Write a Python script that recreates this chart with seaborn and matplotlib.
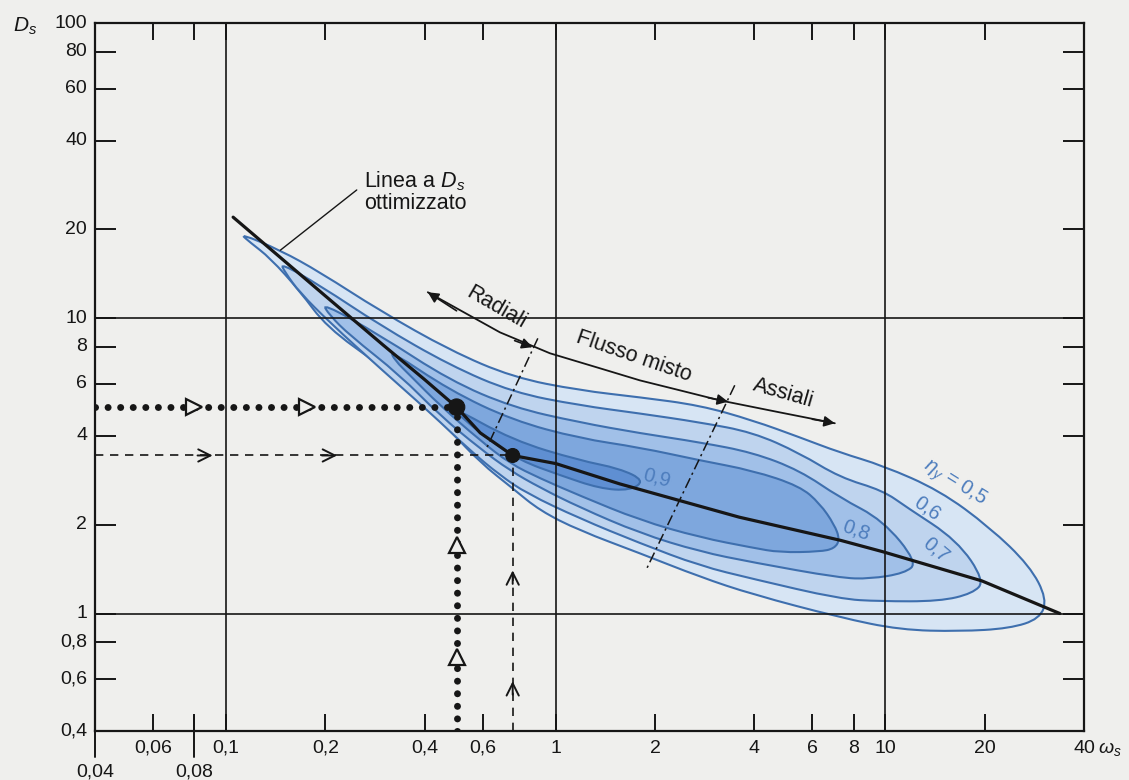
import matplotlib
matplotlib.use("Agg")
import matplotlib.pyplot as plt
from matplotlib.ticker import NullLocator
from matplotlib.path import Path
from matplotlib.patches import PathPatch
import numpy as np
import seaborn as sns
import pandas as pd

# ---------------- data ----------------
# optimum-Ds (Cordier) line
line_omega = [0.105, 0.2, 0.3, 0.4, 0.5, 0.59, 0.74, 1.0, 1.56, 3.6, 7.3, 9.8, 19.6, 33.8]
line_ds = [22.0, 11.9, 8.1, 6.2, 5.0, 4.09, 3.43, 3.22, 2.75, 2.12, 1.77, 1.62, 1.29, 1.0]

# efficiency iso-lines, closed outlines (upper edge left->right, lower edge right->left)
eta_levels = [0.5, 0.6, 0.7, 0.8, 0.9]
eta05_omega = [0.110, 0.146, 0.193, 0.293, 0.477, 0.741, 1.18, 1.80, 2.74, 3.96, 5.50, 7.27,
               9.82, 14.6, 20.7, 27.4, 30.9, 29.4, 23.8, 16.8, 11.1, 7.27, 3.96, 2.74, 1.80,
               1.18, 0.895, 0.741, 0.589, 0.477, 0.387, 0.293, 0.202, 0.167, 0.136, 0.118]
eta05_ds = [19.4, 17.0, 14.3, 10.6, 7.79, 6.31, 5.70, 5.40, 5.07, 4.51, 3.95, 3.51,
            3.17, 2.61, 1.96, 1.45, 1.12, 0.96, 0.89, 0.87, 0.88, 0.97, 1.16, 1.33, 1.60,
            1.91, 2.23, 2.65, 3.25, 4.17, 5.27, 6.93, 9.32, 12.4, 16.0, 18.1]
eta06_omega = [0.146, 0.193, 0.293, 0.477, 0.741, 1.18, 1.80, 2.74, 3.96, 5.50, 7.27, 9.82,
               11.6, 16.5, 20.0, 18.4, 14.6, 9.62, 7.27, 3.96, 2.74, 1.80, 1.18, 0.817,
               0.677, 0.549, 0.415, 0.293, 0.206, 0.167, 0.151]
eta06_ds = [15.4, 12.9, 9.47, 6.93, 5.61, 5.07, 4.76, 4.44, 4.11, 3.49, 2.89, 2.61,
            2.29, 1.77, 1.29, 1.17, 1.10, 1.10, 1.12, 1.31, 1.45, 1.73, 2.10, 2.55,
            2.94, 3.57, 4.80, 6.77, 9.69, 12.25, 14.3]
eta07_omega = [0.195, 0.293, 0.477, 0.741, 1.18, 1.80, 2.74, 3.96, 5.50, 7.27, 9.82, 12.5,
               11.45, 8.97, 7.27, 3.96, 2.74, 1.80, 1.18, 0.895, 0.726, 0.589, 0.445,
               0.337, 0.237, 0.206]
eta07_ds = [11.3, 8.76, 6.16, 4.99, 4.44, 4.08, 3.80, 3.51, 3.05, 2.47, 2.07, 1.49,
            1.37, 1.31, 1.32, 1.49, 1.62, 1.87, 2.29, 2.67, 3.05, 3.62, 4.69,
            6.41, 8.76, 10.24]
eta08_omega = [0.314, 0.477, 0.741, 1.18, 1.80, 2.74, 3.96, 5.50, 6.32, 7.0, 7.27, 7.0,
               6.32, 4.78, 3.96, 2.74, 1.80, 1.18, 0.895, 0.726, 0.589, 0.445, 0.361, 0.325]
eta08_ds = [7.79, 5.70, 4.51, 3.92, 3.65, 3.30, 3.05, 2.70, 2.36, 2.0, 1.78, 1.66,
            1.62, 1.61, 1.67, 1.81, 2.07, 2.51, 2.87, 3.22, 3.86, 5.07, 6.41, 7.20]
eta09_omega = [0.477, 0.741, 1.18, 1.56, 1.86, 1.68, 1.36, 1.03, 0.778, 0.631, 0.530]
eta09_ds = [5.07, 3.86, 3.30, 3.10, 2.82, 2.61, 2.65, 2.94, 3.30, 3.86, 4.51]

# efficiency labels
eta_label_text = [r"$\eta_y$ = 0,5", "0,6", "0,7", "0,8", "0,9"]
eta_label_omega = [16.2, 13.4, 14.2, 8.13, 2.03]
eta_label_ds = [2.77, 2.27, 1.64, 1.91, 2.87]
eta_label_rot = [-32, -35, -40, -20, -15]

# two worked design points
point_omega = [0.5, 0.74]
point_ds = [5.0, 3.43]

# machine-type arrow and the two type boundaries
arrow_omega = [0.409, 0.677, 0.96, 1.361, 1.80, 2.38, 3.15, 4.78, 7.02]
arrow_ds = [12.25, 8.96, 7.61, 6.77, 6.16, 5.70, 5.27, 4.80, 4.41]
bound1_omega = [0.882, 0.618]
bound1_ds = [8.55, 3.65]
bound2_omega = [3.49, 1.876]
bound2_ds = [5.93, 1.40]

# axis ticks
x_ticks = [0.04, 0.06, 0.08, 0.1, 0.2, 0.4, 0.6, 1, 2, 4, 6, 8, 10, 20, 40]
x_tick_labels = ["0,04", "0,06", "0,08", "0,1", "0,2", "0,4", "0,6", "1", "2", "4", "6", "8", "10", "20", "40"]
x_low_row = ["0,04", "0,08"]
y_ticks = [0.4, 0.6, 0.8, 1, 2, 4, 6, 8, 10, 20, 40, 60, 80, 100]
y_tick_labels = ["0,4", "0,6", "0,8", "1", "2", "4", "6", "8", "10", "20", "40", "60", "80", "100"]
x_grid = [0.1, 1, 10]
y_grid = [1, 10]

# ---------------- style ----------------
sns.set_theme(style="white")
plt.rcParams["font.family"] = ["Liberation Sans", "DejaVu Sans"]
plt.rcParams["mathtext.fontset"] = "custom"
plt.rcParams["mathtext.rm"] = "Liberation Sans"
plt.rcParams["mathtext.it"] = "Liberation Sans:italic"

PAPER = "#efefed"
INK = "#161616"
EDGE = "#3e6fae"
FILLS = ["#d7e5f4", "#bfd4ee", "#a1c0e8", "#7ea7dd", "#5f8fd2"]
LABEL_BLUE = "#4d7dbd"
TICK_FS = 14
NOTE_FS = 15.5


def rounded_outline(om, ds):
    """Closed outline through the read points, drawn with quadratic Bezier
    segments in log-log space so the loops come out rounded."""
    lx = np.log10(np.asarray(om, float))
    ly = np.log10(np.asarray(ds, float))
    n = len(lx)
    mx = (lx + np.roll(lx, -1)) / 2
    my = (ly + np.roll(ly, -1)) / 2
    verts = [(mx[-1], my[-1])]
    codes = [Path.MOVETO]
    for i in range(n):
        verts += [(lx[i], ly[i]), (mx[i], my[i])]
        codes += [Path.CURVE3, Path.CURVE3]
    verts = 10 ** np.array(verts)
    return Path(verts, codes)


fig = plt.figure(figsize=(11.29, 7.80), dpi=100, facecolor=PAPER)
ax = fig.add_axes([0.0841, 0.0628, 0.876, 0.9077], facecolor=PAPER)
ax.set_xscale("log")
ax.set_yscale("log")
ax.set_xlim(0.04, 40)
ax.set_ylim(0.4, 100)

# efficiency regions
outlines = [(eta05_omega, eta05_ds), (eta06_omega, eta06_ds), (eta07_omega, eta07_ds),
            (eta08_omega, eta08_ds), (eta09_omega, eta09_ds)]
for (om, ds), fc in zip(outlines, FILLS):
    ax.add_patch(PathPatch(rounded_outline(om, ds), facecolor=fc, edgecolor=EDGE,
                           linewidth=1.5, zorder=2))

for txt, om, ds, rot in zip(eta_label_text, eta_label_omega, eta_label_ds, eta_label_rot):
    ax.text(om, ds, txt, color=LABEL_BLUE, fontsize=14.5, rotation=rot,
            ha="center", va="center", zorder=6)

# grid
for gx in x_grid:
    ax.axvline(gx, color=INK, lw=1.2, zorder=3)
for gy in y_grid:
    ax.axhline(gy, color=INK, lw=1.2, zorder=3)

# optimum line
df_line = pd.DataFrame({"omega": line_omega, "ds": line_ds})
sns.lineplot(data=df_line, x="omega", y="ds", ax=ax, color=INK, lw=2.3,
             sort=False, estimator=None, zorder=5)

# design point A: dotted construction lines
dots = dict(color=INK, lw=5.0, ls=(0, (0.01, 1.8)), dash_capstyle="round", zorder=5)
ax.plot([0.04, point_omega[0]], [point_ds[0]] * 2, **dots)
ax.plot([point_omega[0]] * 2, [0.4, point_ds[0]], **dots)
# design point B: dashed construction lines
dash = dict(color=INK, lw=1.2, ls=(0, (5, 4)), zorder=5)
ax.plot([0.04, point_omega[1]], [point_ds[1]] * 2, **dash)
ax.plot([point_omega[1]] * 2, [0.4, point_ds[1]], **dash)
sns.scatterplot(x=point_omega, y=point_ds, ax=ax, s=[140, 100], color=INK,
                edgecolor=INK, zorder=7, legend=False)

# direction marks on the construction lines
for om in [0.080, 0.176]:
    ax.plot([om], [point_ds[0]], marker=">", ms=11, mfc=PAPER, mec=INK, mew=1.6, zorder=6)
for dsv in [1.70, 0.71]:
    ax.plot([point_omega[0]], [dsv], marker="^", ms=11, mfc=PAPER, mec=INK, mew=1.6, zorder=6)
chev = dict(arrowstyle="->", color=INK, lw=1.4, mutation_scale=22, shrinkA=0, shrinkB=0)
for om in [0.091, 0.217]:
    ax.annotate("", xy=(om, point_ds[1]), xytext=(om * 0.9, point_ds[1]),
                arrowprops=chev, zorder=6)
for dsv in [1.40, 0.59]:
    ax.annotate("", xy=(point_omega[1], dsv), xytext=(point_omega[1], dsv * 0.9),
                arrowprops=chev, zorder=6)

# machine-type arrow
ax.plot(arrow_omega, arrow_ds, color=INK, lw=1.3, zorder=5)
head = dict(arrowstyle="-|>", color=INK, lw=1.2, mutation_scale=16, shrinkA=0, shrinkB=0)
ax.annotate("", xy=(arrow_omega[0], arrow_ds[0]), xytext=(0.5, 10.6), arrowprops=head, zorder=6)
ax.annotate("", xy=(0.85, 7.98), xytext=(0.75, 8.4), arrowprops=head, zorder=6)
ax.annotate("", xy=(3.33, 5.22), xytext=(2.9, 5.38), arrowprops=head, zorder=6)
ax.annotate("", xy=(arrow_omega[-1], arrow_ds[-1]), xytext=(6.0, 4.55), arrowprops=head, zorder=6)
ax.plot(bound1_omega, bound1_ds, color=INK, lw=1.1, ls=(0, (7, 2.5, 1.5, 2.5)), zorder=5)
ax.plot(bound2_omega, bound2_ds, color=INK, lw=1.1, ls=(0, (7, 2.5, 1.5, 2.5)), zorder=5)

ax.text(0.66, 10.9, "Radiali", fontsize=NOTE_FS, rotation=-30, ha="center", va="center", color=INK)
ax.text(1.72, 7.45, "Flusso misto", fontsize=NOTE_FS, rotation=-19, ha="center", va="center", color=INK)
ax.text(4.9, 5.55, "Assiali", fontsize=NOTE_FS, rotation=-16, ha="center", va="center", color=INK)

# optimum line call-out
ax.plot([0.249, 0.146], [27.2, 17.0], color=INK, lw=1.0, zorder=5)
ax.text(0.262, 26.8, "Linea a $D_s$\nottimizzato", fontsize=NOTE_FS, ha="left", va="center",
        linespacing=1.0, color=INK)

# ---------------- axes ----------------
for sp in ax.spines.values():
    sp.set_color(INK)
    sp.set_linewidth(1.6)
ax.xaxis.set_minor_locator(NullLocator())
ax.yaxis.set_minor_locator(NullLocator())
ax.set_xticks(x_ticks)
ax.set_yticks(y_ticks)
ax.set_xticklabels([])
ax.set_yticklabels([])
ax.tick_params(axis="x", which="major", direction="in", length=12, width=1.4,
               color=INK, top=True, bottom=True)
ax.tick_params(axis="y", which="major", direction="in", length=15, width=1.4,
               color=INK, left=True, right=True)
ax.set_xlabel("")
ax.set_ylabel("")

xtr = ax.get_xaxis_transform()
ytr = ax.get_yaxis_transform()
for v, lab in zip(x_ticks, x_tick_labels):
    low = lab in x_low_row
    ax.text(v, -0.058 if low else -0.024, lab, transform=xtr, ha="center", va="center",
            fontsize=TICK_FS, color=INK, clip_on=False)
    if low:
        ax.plot([v, v], [0.0 if v == x_ticks[0] else 0.021, -0.037], transform=xtr,
                color=INK, lw=1.4, clip_on=False)
for v, lab in zip(y_ticks, y_tick_labels):
    ax.text(-0.008, v, lab, transform=ytr, ha="right", va="center", fontsize=TICK_FS,
            color=INK, clip_on=False)

ax.text(-0.071, 0.995, "$D_s$", transform=ax.transAxes, ha="center", va="center",
        fontsize=15, color=INK)
ax.text(1.026, -0.026, r"$\omega_s$", transform=ax.transAxes, ha="center", va="center",
        fontsize=14, color=INK)

fig.savefig("out.png", dpi=100, facecolor=PAPER)
